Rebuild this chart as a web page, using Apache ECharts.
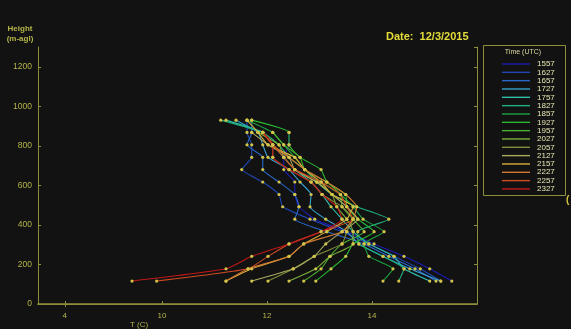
<!DOCTYPE html>
<html>
<head>
<meta charset="utf-8">
<script src="https://cdn.jsdelivr.net/npm/echarts@6/dist/echarts.min.js"></script>
<style>
  html, body { margin: 0; padding: 0; background: #121212; }
  #chart { width: 571px; height: 329px; }
</style>
</head>
<body>
<div id="chart"></div>
<script>
// Sounding heights (m above ground level)
const heights = [116, 178, 241, 304, 366, 429, 492, 554, 617, 680, 742, 805, 868, 930];

// Launch times (UTC) and their line colours
const times = ['1557','1627','1657','1727','1757','1827','1857','1927','1957','2027','2057','2127','2157','2227','2257','2327'];
const timeColors = ['#1c1cb0','#2048b8','#2a68c8','#38a0d0','#30c0b0','#20b07c','#1ca440','#28b830','#4ab030','#7cb038',
                    '#808e3c','#aaaa60','#d8ac38','#d07830','#d04a22','#c01818'];

// Temperature (deg C) at each height, one profile per launch time
const t1557 = [15.52, 15.10, 14.61, 14.04, 13.52, 12.91, 12.61, 12.53, 12.53, 12.32, 12.32, 12.42, 12.42, null];
const t1627 = [15.31, 14.92, 14.42, 13.94, 13.43, 12.82, 12.30, 12.23, 11.92, 11.52, 11.71, 11.71, 11.62, 11.62];
const t1657 = [15.22, 14.82, 14.32, 13.85, 13.14, 12.53, 12.61, 12.53, 12.23, 11.92, 11.92, 11.62, 11.71, 11.71];
const t1727 = [15.31, 14.72, 14.21, 13.75, 13.52, 13.12, 12.82, 12.84, 12.63, 12.42, 12.02, 11.92, 11.83, 11.41];
const t1757 = [15.10, 14.61, 14.42, 13.94, 13.64, 13.43, 13.22, 13.05, 12.84, 12.53, 12.32, 12.11, 11.92, 11.22];
const t1827 = [14.51, 14.61, 14.21, 13.75, 13.73, 14.32, 13.71, 13.24, 12.95, 12.72, 12.42, 12.23, 11.92, 11.12];
const t1857 = [14.21, 14.40, 13.94, 13.85, 14.23, 13.83, 13.64, 13.40, 13.03, 12.72, 12.53, 12.32, 12.11, 11.62];
const t1927 = [12.93, 13.22, 13.50, 13.64, 14.04, 13.73, 13.52, 13.50, 13.14, 13.03, 12.63, 12.42, 12.42, 11.71];
const t1957 = [12.70, 13.03, 13.20, 13.43, 13.85, 13.64, 13.43, 13.40, 13.14, 12.72, 12.63, 12.32, 12.11, null];
const t2027 = [12.42, 12.93, 13.20, 13.64, 13.64, 13.52, 13.33, 13.24, 12.95, 12.53, 12.32, 12.23, 11.83, null];
const t2057 = [12.02, 12.50, 12.90, 13.43, 13.52, 13.64, 13.43, 13.05, 12.84, 12.42, 12.11, 12.11, 11.92, null];
const t2127 = [11.71, 12.50, 12.90, 13.12, 13.43, 13.73, 13.52, 13.24, 12.95, 12.53, 12.42, 12.02, 11.71, null];
const t2157 = [11.22, 11.71, 12.42, 12.70, 13.14, 13.52, 13.64, 13.24, 13.03, 12.72, 12.53, 12.02, 11.83, 11.62];
const t2227 = [11.22, 11.64, 12.42, 12.70, 13.43, 13.64, 13.71, 13.50, 13.14, 12.72, 12.42, 12.11, 11.92, null];
const t2257 = [9.90, 11.64, 12.02, 12.42, 13.03, 13.64, 13.52, 13.40, 13.03, 12.53, 12.32, 12.11, 11.92, null];
const t2327 = [9.43, 11.22, 11.71, 12.42, 13.03, 13.43, 13.33, 13.05, 12.84, 12.42, 12.11, 12.11, 11.92, null];

const profiles = [t1557, t1627, t1657, t1727, t1757, t1827, t1857, t1927, t1957, t2027,
                  t2057, t2127, t2157, t2227, t2257, t2327];

// Temperature axis tick positions and their printed labels
const xTickValues = [8.15, 10, 12, 14];
const xTickLabels = ['4', '10', '12', '14'];

const frameColor = '#8e8e3a';
const labelColor = '#b4b448';

const series = times.map((t, i) => ({
  name: t,
  type: 'line',
  data: heights.map((h, k) => [profiles[i][k], h]),
  connectNulls: false,
  smooth: 0.15,
  symbol: 'circle',
  symbolSize: 3.2,
  lineStyle: { color: timeColors[i], width: 1.1 },
  itemStyle: { color: '#d2c44a' },
  emphasis: { disabled: true },
  z: 2
}));

const chart = echarts.init(document.getElementById('chart'), null, { renderer: 'canvas' });
chart.setOption({
  backgroundColor: '#121212',
  animation: false,
  grid: { left: 38, right: 94, top: 47, bottom: 25, show: false },
  xAxis: [{
    type: 'value', min: 7.64, max: 16,
    axisLine: { show: true, lineStyle: { color: frameColor, width: 1.5 } },
    axisTick: { show: true, inside: true, length: 3, customValues: xTickValues, lineStyle: { color: frameColor } },
    axisLabel: {
      customValues: xTickValues, color: labelColor, fontSize: 8, margin: 8,
      fontFamily: 'Liberation Sans',
      formatter: v => xTickLabels[xTickValues.indexOf(v)]
    },
    splitLine: { show: false },
    name: 'T (C)', nameLocation: 'start', nameGap: 0,
    nameTextStyle: { color: labelColor, fontSize: 8, fontFamily: 'Liberation Sans', align: 'left', verticalAlign: 'top', padding: [17, 0, 0, 92] }
  }, {
    type: 'value', min: 7.64, max: 16, position: 'top',
    axisLine: { show: true, lineStyle: { color: frameColor, width: 1 } },
    axisTick: { show: true, inside: true, length: 3, customValues: [8.15], lineStyle: { color: frameColor } },
    axisLabel: { show: false },
    splitLine: { show: false }
  }],
  yAxis: [{
    type: 'value', min: 0, max: 1300, interval: 200,
    axisLine: { show: true, lineStyle: { color: frameColor, width: 1 } },
    axisTick: { show: true, inside: true, length: 3, lineStyle: { color: frameColor } },
    axisLabel: { color: labelColor, fontSize: 8.5, margin: 6, showMaxLabel: false, fontFamily: 'Liberation Sans',
                 formatter: v => String(v) },
    splitLine: { show: false }
  }, {
    type: 'value', min: 0, max: 1300, interval: 200, position: 'right',
    axisLine: { show: true, lineStyle: { color: frameColor, width: 1 } },
    axisTick: { show: true, inside: true, length: 3, lineStyle: { color: frameColor } },
    axisLabel: { show: false },
    splitLine: { show: false }
  }],
  legend: {
    orient: 'vertical',
    left: 497, top: 55,
    itemWidth: 28, itemHeight: 8, itemGap: 0.33,
    icon: 'path://M0,0H28V1.4H0Z',
    symbolKeepAspect: true,
    selectedMode: false,
    textStyle: { color: '#e6e6b0', fontSize: 8, lineHeight: 8, padding: [0, 0, 0, 2], fontFamily: 'Liberation Sans' },
    data: times.map((t, i) => ({ name: t, itemStyle: { color: timeColors[i] } }))
  },
  graphic: [
    { type: 'rect', shape: { x: 483.5, y: 45.5, width: 82, height: 150 },
      style: { fill: 'none', stroke: frameColor, lineWidth: 1 } },
    { type: 'text', x: 523, y: 49, style: { text: 'Time (UTC)', fill: '#d8d8a0', fontSize: 7, fontFamily: 'Liberation Sans', textAlign: 'center' } },
    { type: 'text', x: 20, y: 24, style: { text: 'Height\n(m-agl)', fill: labelColor, fontSize: 8, lineHeight: 10, fontWeight: 'bold', fontFamily: 'Liberation Sans', textAlign: 'center' } },
    { type: 'text', x: 386, y: 31, style: { text: 'Date:  12/3/2015', fill: '#e4dc3a', fontSize: 11, fontWeight: 'bold', fontFamily: 'Liberation Sans' } },
    { type: 'text', x: 566, y: 195, style: { text: '(', fill: '#d8c840', fontSize: 10, fontWeight: 'bold', fontFamily: 'Liberation Sans' } }
  ],
  series: series
});
</script>
</body>
</html>
